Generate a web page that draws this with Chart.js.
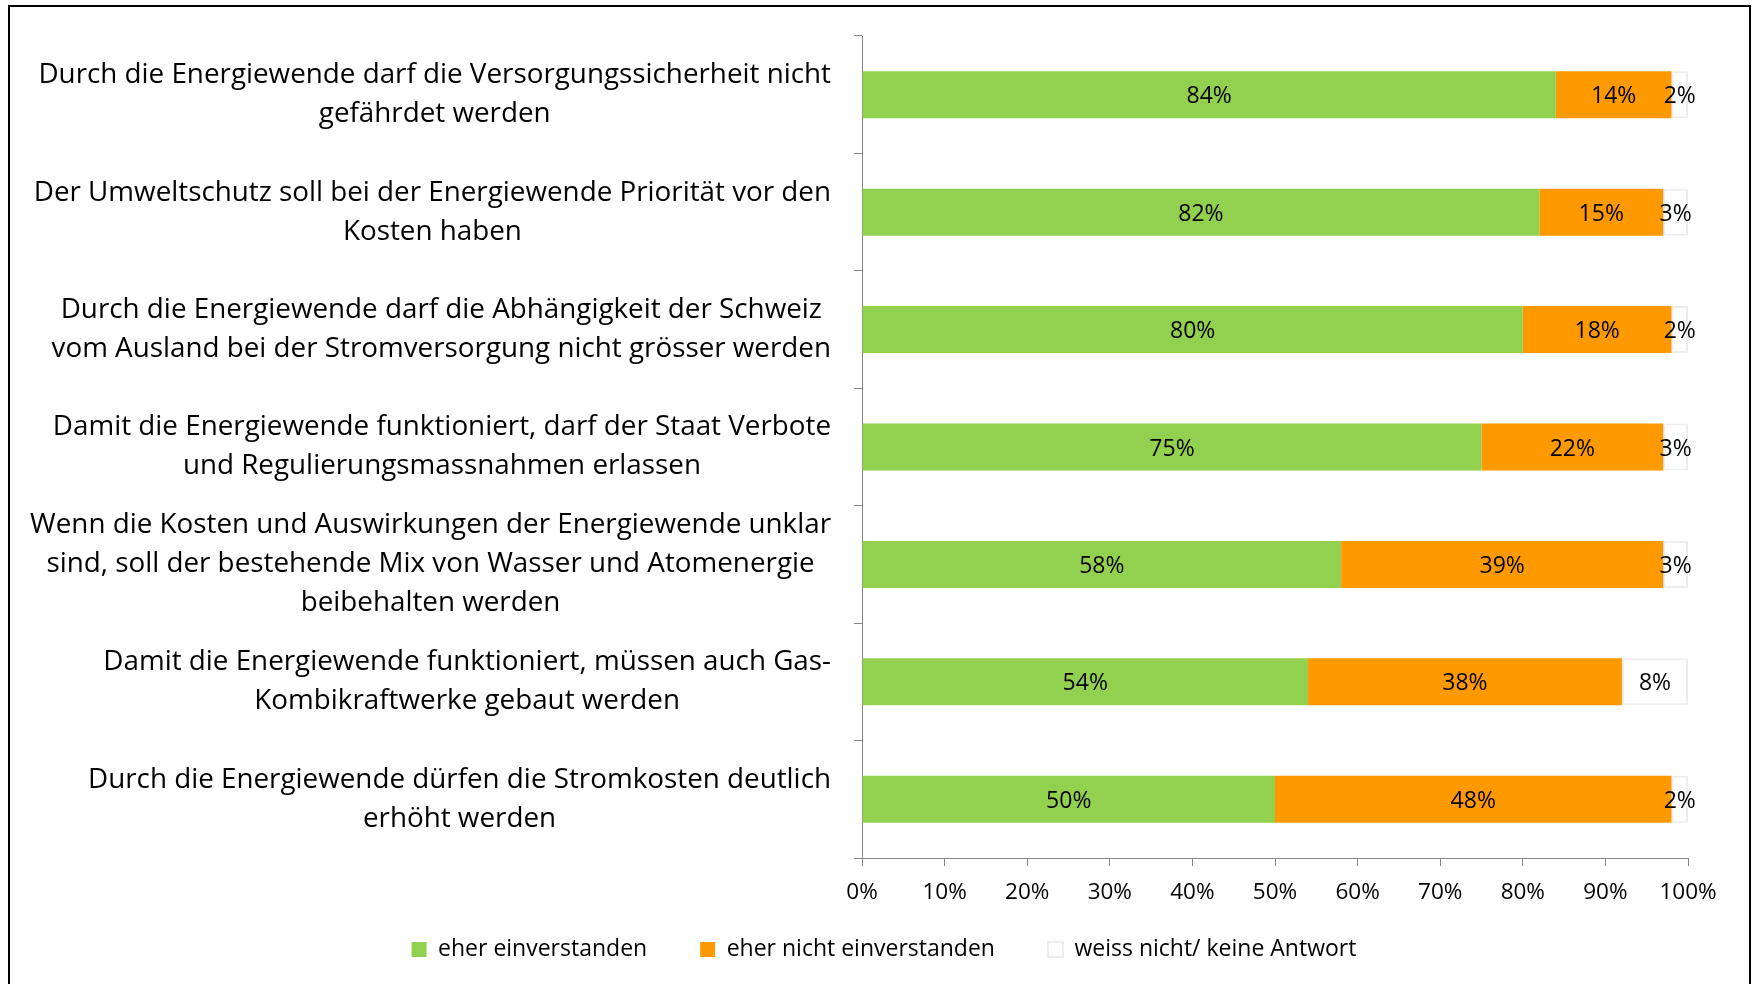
<!DOCTYPE html>
<html>
<head>
<meta charset="utf-8">
<script src="https://cdn.jsdelivr.net/npm/chart.js@4"></script>
<style>
  html, body { margin: 0; padding: 0; background: #fff; overflow: hidden; }
  #frame { position: absolute; left: 8px; top: 5px; width: 1743px; height: 1010px; border: 2px solid #000; box-sizing: border-box; }
  #wrap { position: absolute; left: 0; top: 0; width: 1752px; height: 984px; }
</style>
</head>
<body>
<div id="frame"></div>
<div id="wrap"><canvas id="myChart"></canvas></div>
<script>
"use strict";

// Statements (each line as shown in the chart)
const statements = [
    ["Durch die Energiewende darf die Versorgungssicherheit nicht", "gefährdet werden"],
    ["Der Umweltschutz soll bei der Energiewende Priorität vor den", "Kosten haben"],
    ["Durch die Energiewende darf die Abhängigkeit der Schweiz", "vom Ausland bei der Stromversorgung nicht grösser werden"],
    ["Damit die Energiewende funktioniert, darf der Staat Verbote", "und Regulierungsmassnahmen erlassen"],
    ["Wenn die Kosten und Auswirkungen der Energiewende unklar", "sind, soll der bestehende Mix von Wasser und Atomenergie", "beibehalten werden"],
    ["Damit die Energiewende funktioniert, müssen auch Gas-", "Kombikraftwerke gebaut werden"],
    ["Durch die Energiewende dürfen die Stromkosten deutlich", "erhöht werden"]
];

const seriesNames = ["eher einverstanden", "eher nicht einverstanden", "weiss nicht/ keine Antwort"];
const agree = [84, 82, 80, 75, 58, 54, 50];
const disagree = [14, 15, 18, 22, 39, 38, 48];
const noAnswer = [2, 3, 2, 3, 3, 8, 2];

const FONT = "'Open Sans'";

// draws the percentage in the middle of each bar segment
const barLabels = {
    id: "barLabels",
    afterDatasetsDraw(chart) {
        const ctx = chart.ctx;
        ctx.save();
        ctx.font = "23px " + FONT;
        ctx.fillStyle = "#000";
        ctx.textAlign = "center";
        ctx.textBaseline = "middle";
        chart.data.datasets.forEach((ds, i) => {
            chart.getDatasetMeta(i).data.forEach((bar, j) => {
                const p = bar.getCenterPoint();
                ctx.fillText(ds.data[j] + "%", p.x, p.y + 2);
            });
        });
        ctx.restore();
    }
};

// category labels: block right aligned, lines centered inside the block
const questionLabels = {
    id: "questionLabels",
    afterDraw(chart) {
        const ctx = chart.ctx;
        const yScale = chart.scales.y;
        ctx.save();
        ctx.font = "27.8px " + FONT;
        ctx.fillStyle = "#000";
        ctx.textAlign = "center";
        ctx.textBaseline = "middle";
        statements.forEach((lines, i) => {
            const widest = Math.max(...lines.map(l => ctx.measureText(l).width));
            const cx = yScale.right - 31 - widest / 2;
            const cy = yScale.getPixelForValue(i);
            lines.forEach((line, k) => {
                ctx.fillText(line, cx, cy + (k - (lines.length - 1) / 2) * 39);
            });
        });
        ctx.restore();
    }
};

const ctx = document.getElementById("myChart").getContext("2d");

let config = {
    type: "bar",
    data: {
        labels: statements.map(l => l.join(" ")),
        datasets: [{
            label: seriesNames[0],
            data: agree,
            backgroundColor: "#92D050",
            borderWidth: 0
        }, {
            label: seriesNames[1],
            data: disagree,
            backgroundColor: "#FF9900",
            borderWidth: 0
        }, {
            label: seriesNames[2],
            data: noAnswer,
            backgroundColor: "#FFFFFF",
            borderColor: "#EDEDED",
            borderWidth: 2,
            borderSkipped: false
        }]
    },
    options: {
        indexAxis: "y",
        responsive: true,
        maintainAspectRatio: false,
        animation: false,
        datasets: {
            bar: { barPercentage: 0.4, categoryPercentage: 1 }
        },
        layout: {
            padding: { left: 80, right: 64, top: 36, bottom: 13 }
        },
        scales: {
            x: {
                stacked: true,
                min: 0,
                max: 100,
                ticks: {
                    stepSize: 10,
                    callback: v => v + "%",
                    color: "#000",
                    font: { family: FONT, size: 22.5 },
                    padding: 13
                },
                grid: { drawOnChartArea: false, tickLength: 8, color: "#868686" },
                border: { color: "#868686" },
                afterFit(s) { s.height = 50; }
            },
            y: {
                stacked: true,
                ticks: { display: false },
                grid: { drawOnChartArea: false, tickLength: 8, color: "#868686", offset: true },
                border: { color: "#868686" },
                afterFit(s) { s.width = 782; }
            }
        },
        plugins: {
            legend: {
                position: "bottom",
                labels: {
                    boxWidth: 15,
                    boxHeight: 15,
                    padding: 30,
                    color: "#000",
                    font: { family: FONT, size: 23 },
                    generateLabels(chart) {
                        const items = Chart.defaults.plugins.legend.labels.generateLabels(chart);
                        // wider gap between entries, like the original
                        items.forEach((it, i) => {
                            if (i < items.length - 1) it.text += "\u2002\u2002";
                        });
                        return items;
                    }
                }
            },
            tooltip: { enabled: false }
        }
    },
    plugins: [barLabels, questionLabels]
};

let myChart = new Chart(ctx, config);
</script>
</body>
</html>
